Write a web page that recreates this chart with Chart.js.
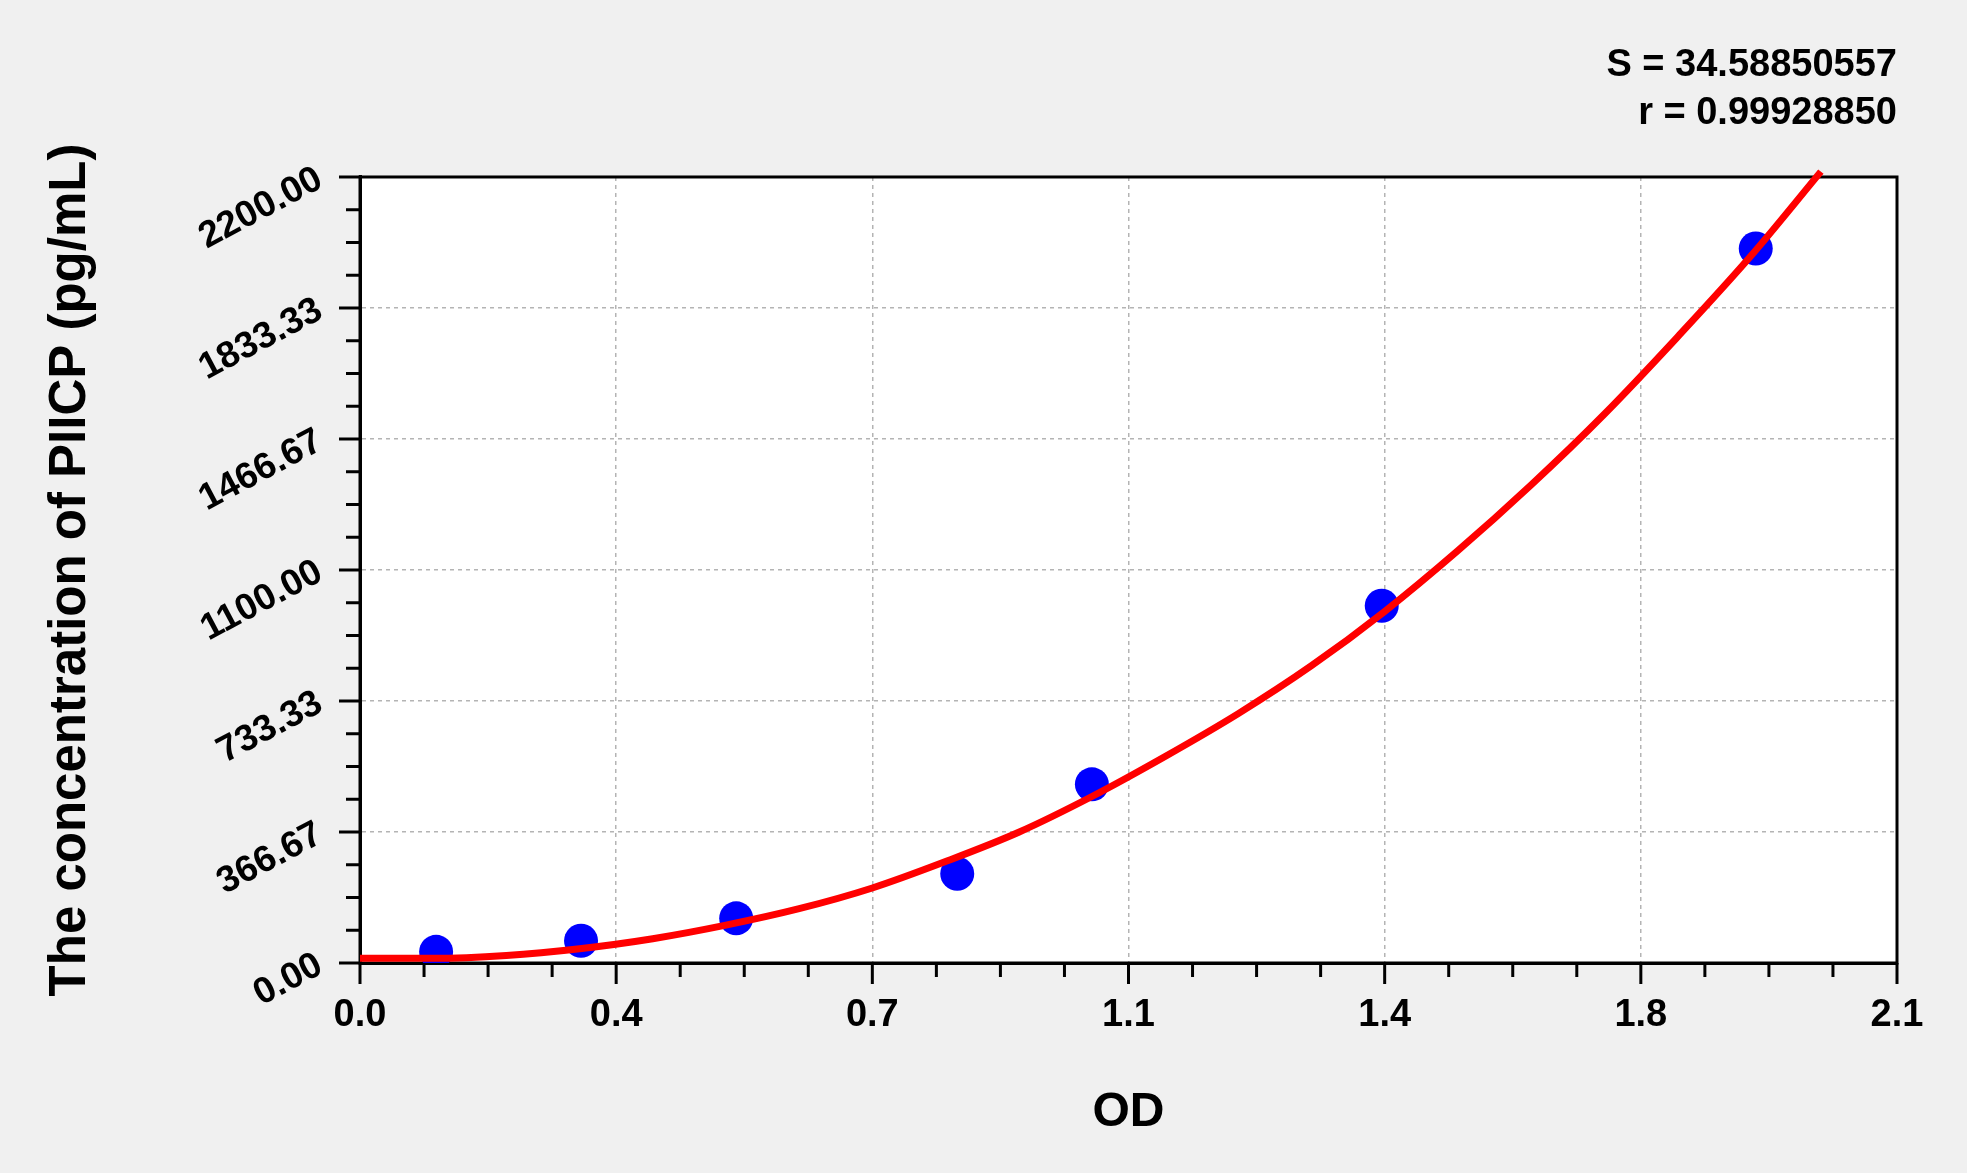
<!DOCTYPE html>
<html>
<head>
<meta charset="utf-8">
<script src="https://cdn.jsdelivr.net/npm/chart.js@4.4.1/dist/chart.umd.min.js"></script>
<style>
  html, body { margin: 0; padding: 0; background: #f0f0f0; }
  canvas { display: block; }
</style>
</head>
<body>
<canvas id="myChart" width="1967" height="1173"></canvas>
<script>
// standards (OD vs concentration)
const odValues = [0.104, 0.302, 0.514, 0.816, 1.000, 1.396, 1.907];
const concValues = [31.25, 62.5, 125, 250, 500, 1000, 2000];

// fitted curve
const curveOD = [0, 0.1, 0.2, 0.3, 0.4, 0.5, 0.6, 0.7, 0.8, 0.9, 1.0,
  1.1, 1.2, 1.3, 1.4, 1.5, 1.6, 1.7, 1.8, 1.9, 1.996];
const curveConc = [13, 13, 21, 40, 68, 106, 152, 210, 284, 366, 466,
  578, 698, 832, 984, 1154, 1338, 1536, 1752, 1978, 2215];

const xTickLabels = ['0.0', '0.4', '0.7', '1.1', '1.4', '1.8', '2.1'];
const yTickLabels = ['0.00', '366.67', '733.33', '1100.00', '1466.67', '1833.33', '2200.00'];
const statLines = ['S = 34.58850557', 'r = 0.99928850'];

const FONT = "'Liberation Sans', Arial, Helvetica, sans-serif";
Chart.defaults.font.family = FONT;
Chart.defaults.color = '#000';

const ctx = document.getElementById('myChart').getContext('2d');

const frameAndTicks = {
  id: 'frameAndTicks',
  beforeDraw(chart) {
    const a = chart.chartArea;
    const c = chart.ctx;
    c.save();
    c.fillStyle = '#ffffff';
    c.fillRect(a.left, a.top, a.right - a.left, a.bottom - a.top);
    c.restore();
  },
  beforeDatasetsDraw(chart) {
    const a = chart.chartArea;
    const c = chart.ctx;
    c.save();
    c.strokeStyle = '#000';
    c.lineWidth = 3;
    c.strokeRect(a.left, a.top, a.right - a.left, a.bottom - a.top);
    const xs = chart.scales.x;
    xs.ticks.forEach((t, i) => {
      const px = xs.getPixelForTick(i);
      const len = i % 4 === 0 ? 21 : 14;
      c.beginPath();
      c.moveTo(px, a.bottom);
      c.lineTo(px, a.bottom + len);
      c.stroke();
    });
    const ys = chart.scales.y;
    ys.ticks.forEach((t, i) => {
      const py = ys.getPixelForTick(i);
      const len = i % 4 === 0 ? 21 : 14;
      c.beginPath();
      c.moveTo(a.left, py);
      c.lineTo(a.left - len, py);
      c.stroke();
    });
    c.restore();
  }
};

const data = {
  datasets: [{
    label: 'Curve',
    data: curveOD.map((x, i) => ({x: x, y: curveConc[i]})),
    showLine: true,
    borderColor: 'rgb(255, 0, 0)',
    borderWidth: 7,
    pointRadius: 0,
    cubicInterpolationMode: 'monotone',
    clip: false,
    order: 0
  }, {
    label: 'Standards',
    data: odValues.map((x, i) => ({x: x, y: concValues[i]})),
    backgroundColor: 'rgb(0, 0, 255)',
    borderWidth: 0,
    pointRadius: 17,
    order: 1
  }]
};

const gridColor = (c) => c.index % 4 === 0 ? '#b4b4b4' : 'rgba(0,0,0,0)';

const config = {
  type: 'scatter',
  data: data,
  plugins: [frameAndTicks],
  options: {
    responsive: false,
    animation: false,
    devicePixelRatio: 1,
    layout: { padding: { left: 0, top: 0, right: 70, bottom: 0 } },
    plugins: {
      legend: { display: false },
      tooltip: { enabled: false },
      title: {
        display: true,
        text: statLines,
        align: 'end',
        color: '#000',
        font: { size: 38, weight: 'bold', lineHeight: 1.263 },
        padding: { top: 42, bottom: 39 }
      }
    },
    scales: {
      x: {
        type: 'linear',
        min: 0,
        max: 2.1,
        afterFit(scale) { scale.height = 210; },
        grid: { color: gridColor, lineWidth: 1.5, drawTicks: false },
        border: { display: true, color: '#000', width: 3, dash: [4, 4] },
        ticks: {
          stepSize: 0.0875,
          autoSkip: false,
          maxRotation: 0,
          padding: 30,
          font: { size: 38, weight: 'bold' },
          callback: (v, i) => i % 4 === 0 ? xTickLabels[i / 4] : ''
        },
        title: {
          display: true,
          text: 'OD',
          font: { size: 48, weight: 'bold' },
          padding: { top: 0, bottom: 31 }
        }
      },
      y: {
        type: 'linear',
        min: 0,
        max: 2200,
        afterFit(scale) { scale.width = 360; },
        grid: { color: gridColor, lineWidth: 1.5, drawTicks: false },
        border: { display: true, color: '#000', width: 3, dash: [4, 4] },
        ticks: {
          stepSize: 2200 / 24,
          autoSkip: false,
          minRotation: 28,
          maxRotation: 28,
          padding: 40,
          font: { size: 37, weight: 'bold' },
          callback: (v, i) => i % 4 === 0 ? yTickLabels[i / 4] : ''
        },
        title: {
          display: true,
          text: 'The concentration of PIICP (pg/mL)',
          font: { size: 51, weight: 'bold' },
          padding: { top: 40, bottom: 0 }
        }
      }
    }
  }
};

const myChart = new Chart(ctx, config);
</script>
</body>
</html>
